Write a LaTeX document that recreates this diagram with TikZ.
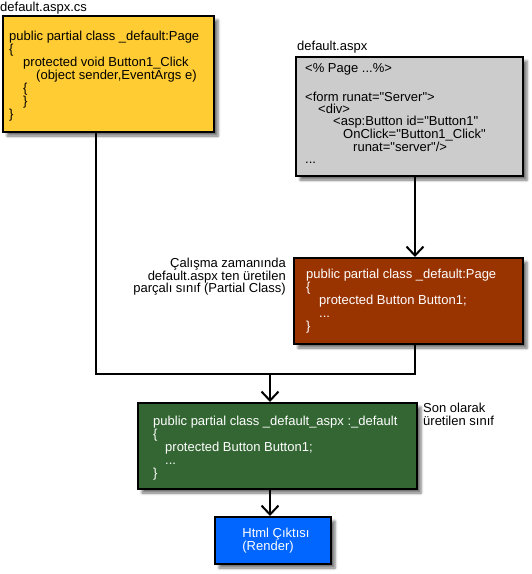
\documentclass[tikz,border=0pt]{standalone}
\usepackage{fontspec}
\setmainfont{Liberation Sans}
\newfontfamily\codefont{Liberation Sans}
\usetikzlibrary{arrows.meta,shadows.blur}
\definecolor{cyellow}{HTML}{FFCC33}
\definecolor{cgray}{HTML}{CCCCCC}
\definecolor{cbrown}{HTML}{993300}
\definecolor{cgreen}{HTML}{336633}
\definecolor{cblue}{HTML}{0066FF}
\begin{document}
\begin{tikzpicture}[x=1pt,y=-1pt,
  box/.style={draw=black,line width=2pt,rectangle,inner sep=0pt,anchor=north west,
    blur shadow={shadow xshift=4pt,shadow yshift=-4pt,shadow blur radius=2.5pt,shadow opacity=55}},
  code/.style={anchor=west,inner sep=0pt,align=left,font=\codefont\fontsize{13}{13}\selectfont},
  lab/.style={inner sep=0pt,font=\fontsize{13}{12.5}\selectfont},
  conn/.style={line width=2pt},
  arr/.style={conn,-{Straight Barb[length=9pt,width=17pt,line width=2pt]}}
]
\useasboundingbox (0,0) rectangle (532,574);

% boxes
\node[box,fill=cyellow,minimum width=211pt,minimum height=116pt] (ycs) at (2,15) {};
\node[box,fill=cgray,minimum width=227pt,minimum height=119pt] (gasp) at (295,56) {};
\node[box,fill=cbrown,minimum width=229pt,minimum height=86pt] (bpart) at (293,257) {};
\node[box,fill=cgreen,minimum width=279pt,minimum height=86pt] (gfin) at (137,402) {};
\node[box,fill=cblue,minimum width=116pt,minimum height=47pt] (bhtml) at (214,516) {};

% box texts
\node[code] (ycstext) at ([xshift=7pt,yshift=-2pt]ycs.west) {public partial class \_default:Page\\
\{\\
\hspace*{14pt}protected void Button1\_Click\\
\hspace*{27pt}(object sender,EventArgs e)\\
\hspace*{14pt}\{\\
\hspace*{14pt}\}\\
\}};

\node[code,font=\codefont\fontsize{13}{12}\selectfont] (gasptext) at ([xshift=10pt,yshift=3pt]gasp.west) {<\% Page ...\%>\\[16pt]
<form runat="Server">\\
\hspace*{13pt}<div>\\
\hspace*{28pt}<asp:Button id="Button1"\\
\hspace*{38pt}OnClick="Button1\_Click"\\
\hspace*{48pt}runat="server"/>\\
...};

\node[code,text=white] (bparttext) at ([xshift=13pt]bpart.west) {public partial class \_default:Page\\
\{\\
\hspace*{13pt}protected Button Button1;\\
\hspace*{13pt}...\\
\}};

\node[code,text=white] (gfintext) at ([xshift=16pt,yshift=-2pt]gfin.west) {public partial class \_default\_aspx :\_default\\
\{\\
\hspace*{12pt}protected Button Button1;\\
\hspace*{12pt}...\\
\}};

\node[code,anchor=center,text=white] (bhtmltext) at ([xshift=3pt]bhtml.center) {Html Çıktısı\\(Render)};

% labels
\node[lab,anchor=base west] (lcs) at (0,11) {default.aspx.cs};
\node[lab,anchor=base west] (lasp) at (297,50) {default.aspx};
\node[lab,anchor=north east,align=right] (lrun) at (286,258) {Çalışma zamanında\\default.aspx ten üretilen\\parçalı sınıf (Partial Class)};
\node[lab,anchor=north west,align=left] (lson) at (423,403) {Son olarak\\üretilen sınıf};

% connectors
\coordinate (j1) at (96,374);
\coordinate (j2) at (415,374);
\coordinate (j3) at (270,374);
\draw[conn] (ycs.south -| j1) -- (j1) -- (j2) -- (bpart.south -| j2);
\draw[arr] (gasp.south -| j2) -- (bpart.north -| j2);
\draw[arr] (j3) -- (gfin.north -| j3);
\draw[arr] (gfin.south -| j3) -- (bhtml.north -| j3);
\end{tikzpicture}
\end{document}
